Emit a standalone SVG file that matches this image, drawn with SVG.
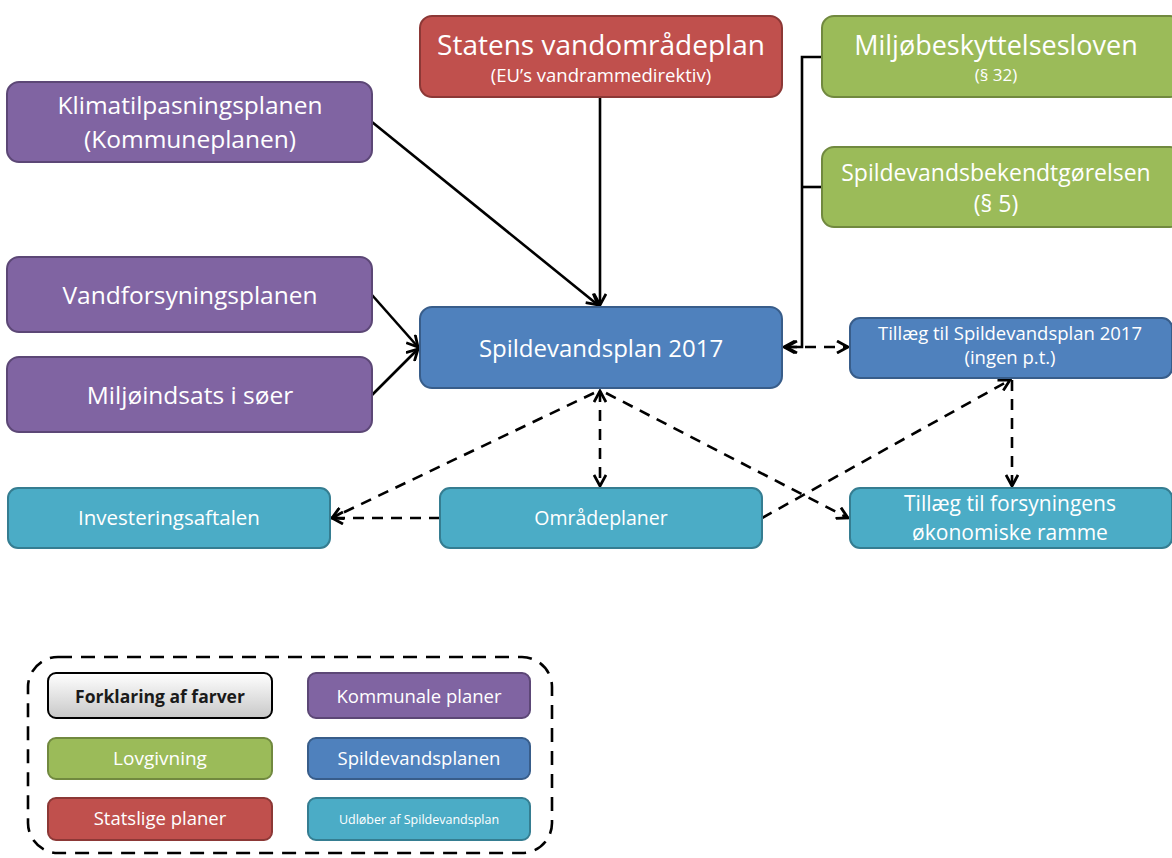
<svg xmlns="http://www.w3.org/2000/svg" width="1172" height="858" viewBox="0 0 1172 858">
<defs>
<marker id="ah" viewBox="0 0 14 14" refX="12" refY="7" markerWidth="14" markerHeight="14" markerUnits="userSpaceOnUse" orient="auto-start-reverse">
<polyline points="1,1 12,7 1,13" fill="none" stroke="#000" stroke-width="2.8"/>
</marker>
<linearGradient id="gray" x1="0" y1="0" x2="0" y2="1">
<stop offset="0" stop-color="#ffffff"/><stop offset="1" stop-color="#c8c8c8"/>
</linearGradient>
</defs>
<style>
text{font-family:"Open Sans","Liberation Sans",sans-serif;fill:#fff;text-anchor:middle}
.red{fill:#C0504D;stroke:#8C3836;stroke-width:2}
.green{fill:#9BBB59;stroke:#71893F;stroke-width:2}
.purple{fill:#8064A2;stroke:#5C4776;stroke-width:2}
.blue{fill:#4F81BD;stroke:#385D8A;stroke-width:2}
.teal{fill:#4BACC6;stroke:#357D91;stroke-width:2}
.solid{fill:none;stroke:#000;stroke-width:2.6}
.dash{fill:none;stroke:#000;stroke-width:2.6;stroke-dasharray:11,8}
</style>
<rect width="1172" height="858" fill="#fff"/>

<g id="connectors">
<line class="solid" x1="600" y1="97" x2="600" y2="305" marker-end="url(#ah)"/>
<line class="solid" x1="372" y1="122" x2="598" y2="305" marker-end="url(#ah)"/>
<line class="solid" x1="372" y1="295" x2="418" y2="347" marker-end="url(#ah)"/>
<line class="solid" x1="372" y1="395" x2="418" y2="349" marker-end="url(#ah)"/>
<polyline class="solid" points="822,57 802,57 802,347 784,347" marker-end="url(#ah)"/>
<line class="solid" x1="822" y1="187" x2="802" y2="187"/>
<line class="dash" x1="786" y1="347" x2="848" y2="347" marker-start="url(#ah)" marker-end="url(#ah)"/>
<line class="dash" x1="600" y1="391" x2="600" y2="486" marker-start="url(#ah)" marker-end="url(#ah)"/>
<line class="dash" x1="594" y1="393" x2="332" y2="518" marker-end="url(#ah)"/>
<line class="dash" x1="606" y1="393" x2="848" y2="518" marker-end="url(#ah)"/>
<line class="dash" x1="440" y1="518" x2="332" y2="518" marker-end="url(#ah)"/>
<line class="dash" x1="762" y1="518" x2="1010" y2="380" marker-end="url(#ah)"/>
<line class="dash" x1="1012" y1="380" x2="1012" y2="486" marker-end="url(#ah)"/>
</g>

<g id="statens">
<rect class="red" x="420" y="16" width="362" height="81" rx="12"/>
<text x="601" y="55" font-size="28">Statens vandområdeplan</text>
<text x="601" y="82" font-size="18.5">(EU’s vandrammedirektiv)</text>
</g>
<g id="miljobesk">
<rect class="green" x="822" y="16" width="360" height="81" rx="12"/>
<text x="996" y="55" font-size="27">Miljøbeskyttelsesloven</text>
<text x="996" y="81" font-size="17">(§ 32)</text>
</g>
<g id="spildevandsbek">
<rect class="green" x="822" y="147" width="360" height="80" rx="12"/>
<text x="996" y="181" font-size="23">Spildevandsbekendtgørelsen</text>
<text x="996" y="212" font-size="23">(§ 5)</text>
</g>
<g id="klima">
<rect class="purple" x="7" y="82" width="365" height="80" rx="12"/>
<text x="190" y="114" font-size="24.5">Klimatilpasningsplanen</text>
<text x="190" y="148" font-size="24.5">(Kommuneplanen)</text>
</g>
<g id="vandforsyning">
<rect class="purple" x="7" y="257" width="365" height="75" rx="12"/>
<text x="190" y="304" font-size="24.5">Vandforsyningsplanen</text>
</g>
<g id="miljoindsats">
<rect class="purple" x="7" y="357" width="365" height="75" rx="12"/>
<text x="190" y="404" font-size="24.5">Miljøindsats i søer</text>
</g>
<g id="spildevandsplan">
<rect class="blue" x="420" y="307" width="362" height="81" rx="12"/>
<text x="601" y="357" font-size="24">Spildevandsplan 2017</text>
</g>
<g id="tillaeg-plan">
<rect class="blue" x="850" y="318" width="322" height="60" rx="10"/>
<text x="1010" y="340" font-size="18.5">Tillæg til Spildevandsplan 2017</text>
<text x="1010" y="364" font-size="18.5">(ingen p.t.)</text>
</g>
<g id="tillaeg-ramme">
<rect class="teal" x="850" y="488" width="322" height="60" rx="10"/>
<text x="1010" y="511" font-size="21">Tillæg til forsyningens</text>
<text x="1010" y="540" font-size="21">økonomiske ramme</text>
</g>
<g id="investering">
<rect class="teal" x="8" y="488" width="322" height="60" rx="10"/>
<text x="169" y="525" font-size="20.5">Investeringsaftalen</text>
</g>
<g id="omraadeplaner">
<rect class="teal" x="440" y="488" width="322" height="60" rx="10"/>
<text x="601" y="525" font-size="19.5">Områdeplaner</text>
</g>

<g id="legend">
<rect x="28" y="657" width="524" height="196" rx="30" fill="none" stroke="#000" stroke-width="2.6" stroke-dasharray="14,9"/>
<rect x="48" y="673" width="224" height="45" rx="8" fill="url(#gray)" stroke="#000" stroke-width="2"/>
<text x="160" y="703" font-size="17.5" font-weight="bold" style="fill:#1a1a1a">Forklaring af farver</text>
<rect class="purple" x="308" y="673" width="222" height="45" rx="8"/>
<text x="419" y="703" font-size="18.5">Kommunale planer</text>
<rect class="green" x="48" y="738" width="224" height="41" rx="8"/>
<text x="160" y="765" font-size="19">Lovgivning</text>
<rect class="blue" x="308" y="738" width="222" height="41" rx="8"/>
<text x="419" y="765" font-size="18.5">Spildevandsplanen</text>
<rect class="red" x="48" y="798" width="224" height="42" rx="8"/>
<text x="160" y="825" font-size="18.5">Statslige planer</text>
<rect class="teal" x="308" y="798" width="222" height="42" rx="8"/>
<text x="419" y="824" font-size="12.5">Udløber af Spildevandsplan</text>
</g>
</svg>
